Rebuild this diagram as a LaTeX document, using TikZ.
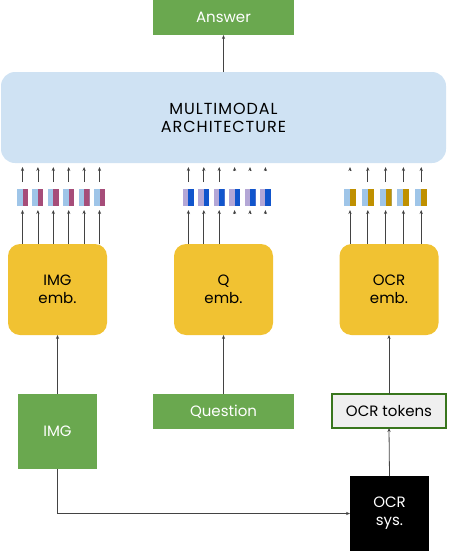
\documentclass[tikz,border=0pt]{standalone}
\usepackage{fontspec}
\setmainfont{Poppins}
\usepackage{xcolor}
\usetikzlibrary{arrows.meta}
\definecolor{leafgreen}{HTML}{6AA84F}
\definecolor{darkgreen}{HTML}{38761D}
\definecolor{paleblue}{HTML}{CFE2F3}
\definecolor{mustard}{HTML}{F1C232}
\definecolor{skyblue}{HTML}{9FC5E8}
\definecolor{plum}{HTML}{A64D79}
\definecolor{lavender}{HTML}{B4A7D6}
\definecolor{royal}{HTML}{1155CC}
\definecolor{gold}{HTML}{BF9000}
\definecolor{lightgrey}{HTML}{EFEFEF}
\definecolor{arrowgrey}{HTML}{434343}

\begin{document}
\begin{tikzpicture}[x=1pt,y=-1pt]
	\useasboundingbox (0,0) rectangle (448,552);
	\tikzstyle{every node}=[inner sep=0pt,outer sep=0pt,font=\fontsize{15}{18}\selectfont,align=center];
	\tikzstyle{greenbox}=[fill=leafgreen,text=white];
	\tikzstyle{embbox}=[fill=mustard,rounded corners=12pt,minimum width=99pt,minimum height=91pt];
	\tikzstyle{tok}=[minimum width=#1,minimum height=17pt];
	\tikzstyle{arr}=[draw=arrowgrey,line width=0.8pt,-{Stealth[length=4pt,width=3.2pt]}];
	% output and model
	\node[greenbox,minimum width=141pt,minimum height=35pt] (ans) at (223.5,17.5) {Answer};
	\node[fill=paleblue,rounded corners=14pt,minimum width=445pt,minimum height=91pt,font=\fontsize{16}{18}\selectfont\addfontfeature{LetterSpace=6}] (mm) at (223.5,117.5) {MULTIMODAL\\ARCHITECTURE};
	\draw[arr] (mm.north) -- (ans.south);
	% embeddings
	\node[embbox] (iemb) at (57.5,289.5) {IMG\\emb.};
	\node[embbox] (qemb) at (223.5,289.5) {Q\\emb.};
	\node[embbox] (oemb) at (389,289.5) {OCR\\emb.};
	% tokens: left half, right half
	\tikzstyle{pair}=[tok=11pt,fill=#1,path picture={\fill[pairright] (path picture bounding box.south) rectangle (path picture bounding box.north east);}];
	\colorlet{pairright}{plum}
	\node[pair=skyblue] (i1) at (22.5,197.5) {};
	\node[pair=skyblue] (i2) at (37.9,197.5) {};
	\node[pair=skyblue] (i3) at (53.3,197.5) {};
	\node[pair=skyblue] (i4) at (68.7,197.5) {};
	\node[pair=skyblue] (i5) at (84.1,197.5) {};
	\node[pair=skyblue] (i6) at (99.5,197.5) {};
	\colorlet{pairright}{royal}
	\node[pair=lavender] (q1) at (188.4,197.5) {};
	\node[pair=lavender] (q2) at (203.8,197.5) {};
	\node[pair=lavender] (q3) at (219.2,197.5) {};
	\node[pair=lavender] (q4) at (234.6,197.5) {};
	\node[pair=lavender] (q5) at (250.0,197.5) {};
	\node[pair=lavender] (q6) at (265.4,197.5) {};
	\colorlet{pairright}{gold}
	\node[pair=skyblue,tok=12pt] (o1) at (350,197.5) {};
	\node[pair=skyblue,tok=12pt] (o2) at (367.8,197.5) {};
	\node[pair=skyblue,tok=12pt] (o3) at (385.6,197.5) {};
	\node[pair=skyblue,tok=12pt] (o4) at (403.4,197.5) {};
	\node[pair=skyblue,tok=12pt] (o5) at (421.2,197.5) {};
	% embeddings -> tokens -> model
	\foreach \t in {i1,i2,i3,i4,i5,i6}
		\draw[arr,shorten >=4pt] (\t.south |- iemb.north) -- (\t.south);
	\foreach \t in {q1,q2,q3}
		\draw[arr,shorten >=4pt] (\t.south |- qemb.north) -- (\t.south);
	\foreach \t in {q4,q5,q6}
		\draw[arr,shorten <=30pt,shorten >=4pt] (\t.south |- qemb.north) -- (\t.south);
	\foreach \t in {o1,o2,o3,o4,o5}
		\draw[arr,shorten >=4pt] (\t.south |- oemb.north) -- (\t.south);
	\foreach \t in {i1,i2,i3,i4,i5,i6,q1,q2,q3,o2,o3,o4,o5}
		\draw[arr,shorten <=7pt,shorten >=4pt] (\t.north) -- (\t.north |- mm.south);
	\foreach \t in {q4,q5,q6,o1}
		\draw[arr,shorten <=18pt,shorten >=4pt] (\t.north) -- (\t.north |- mm.south);
	% inputs
	\node[greenbox,minimum width=79pt,minimum height=75pt] (img) at (57.5,431.5) {IMG};
	\node[greenbox,minimum width=141pt,minimum height=35pt] (q) at (223.5,411.5) {Question};
	\node[draw=darkgreen,line width=2pt,fill=lightgrey,minimum width=114pt,minimum height=34pt] (ocrt) at (389,411) {OCR tokens};
	\node[fill=black,text=white,minimum width=79pt,minimum height=75pt] (ocrs) at (389.5,513.5) {OCR\\sys.};
	\draw[arr] (img.north) -- (iemb.south);
	\draw[arr] (q.north) -- (qemb.south);
	\draw[arr] (ocrt.north) -- (oemb.south);
	\draw[arr] (ocrs.north) -- (ocrt.south);
	\draw[arr] (img.south) |- (ocrs.west);
\end{tikzpicture}
\end{document}
